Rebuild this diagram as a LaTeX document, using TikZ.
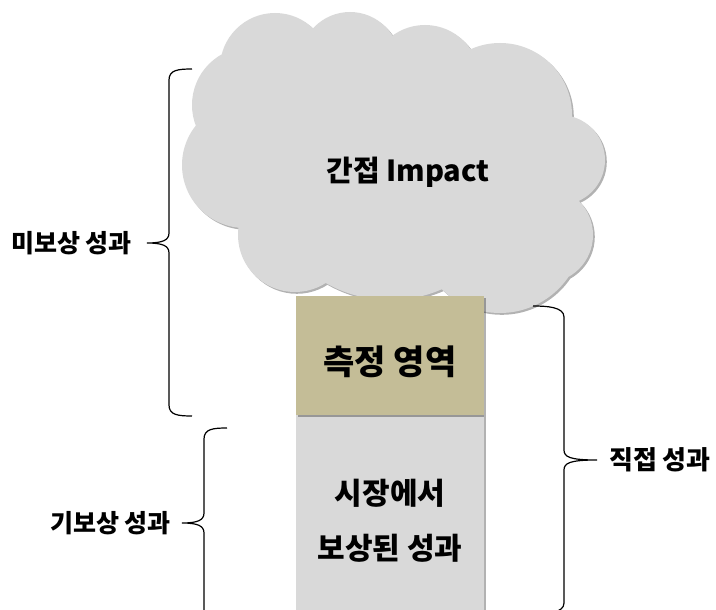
\documentclass[tikz,border=0pt]{standalone}
\usepackage{fontspec}
\newfontfamily\kr{Noto Sans CJK KR}
\usetikzlibrary{shadows}
\definecolor{cloudgray}{HTML}{D9D9D9}
\definecolor{tanbox}{HTML}{C4BD97}
\begin{document}
\begin{tikzpicture}[x=1pt,y=-1pt,
  shadowed/.style={drop shadow={shadow xshift=1.8pt,shadow yshift=-1.8pt,fill=black,opacity=0.3}},
  lbl/.style={font=\kr\bfseries\fontsize{25}{30}\selectfont, text=black, inner sep=0pt},
  big/.style={font=\kr\bfseries\fontsize{29}{55}\selectfont, text=black, inner sep=0pt, align=center},
  brc/.style={line width=1.2pt, black}]
\clip (0,0) rectangle (716,610);
\fill[white] (0,0) rectangle (716,610);
% cloud
\path[fill=cloudgray, shadowed]
  (250,105) circle[radius=58]
  (275,68) circle[radius=55]
  (350,62) circle[radius=50]
  (425,80) circle[radius=55]
  (500,115) circle[radius=72]
  (560,160) circle[radius=45]
  (545,235) circle[radius=48]
  (500,230) circle[radius=83]
  (295,235) circle[radius=57]
  (245,165) circle[radius=63]
  (390,170) circle[radius=130];
\node (impact) [big] at (408,172) {간접 Impact};
% boxes
\node (mkt) [fill=cloudgray, shadowed, minimum width=188pt, minimum height=215pt, inner sep=0pt, anchor=north] at (390,415) {};
\node (meas) [fill=tanbox, shadowed, minimum width=188pt, minimum height=119pt, inner sep=0pt, anchor=north] at (390,296) {};
\node (meastxt) [big, font=\kr\bfseries\fontsize{34}{40}\selectfont] at (390,362) {측정 영역};
\node (mkttxt) [big, font=\kr\bfseries\fontsize{30}{55}\selectfont] at (390,520.5) {시장에서\\보상된 성과};
% braces
\draw[brc] (192,69) .. controls (178,69) and (169,70) .. (169,80) -- (169,233)
  .. controls (169,240) and (163,243) .. (147,243)
  .. controls (163,243) and (169,246) .. (169,253) -- (169,405)
  .. controls (169,415) and (178,416) .. (192,416);
\draw[brc] (227,428) .. controls (213,428) and (204,429) .. (204,439) -- (204,513)
  .. controls (204,520) and (198,523) .. (182,523)
  .. controls (198,523) and (204,526) .. (204,533) -- (204,619)
  .. controls (204,629) and (213,630) .. (227,630);
\draw[brc] (533,306) .. controls (547,306) and (564,307) .. (564,317) -- (564,450)
  .. controls (564,457) and (570,460) .. (597,460)
  .. controls (570,460) and (564,463) .. (564,470) -- (564,603)
  .. controls (564,613) and (547,614) .. (533,614);
% labels
\node (unpaid) [lbl, anchor=east] at (132,243) {미보상 성과};
\node (paid) [lbl, anchor=east] at (171,523) {기보상 성과};
\node (direct) [lbl, font=\kr\bfseries\fontsize{26}{30}\selectfont, anchor=west] at (609,460) {직접 성과};
\end{tikzpicture}
\end{document}
